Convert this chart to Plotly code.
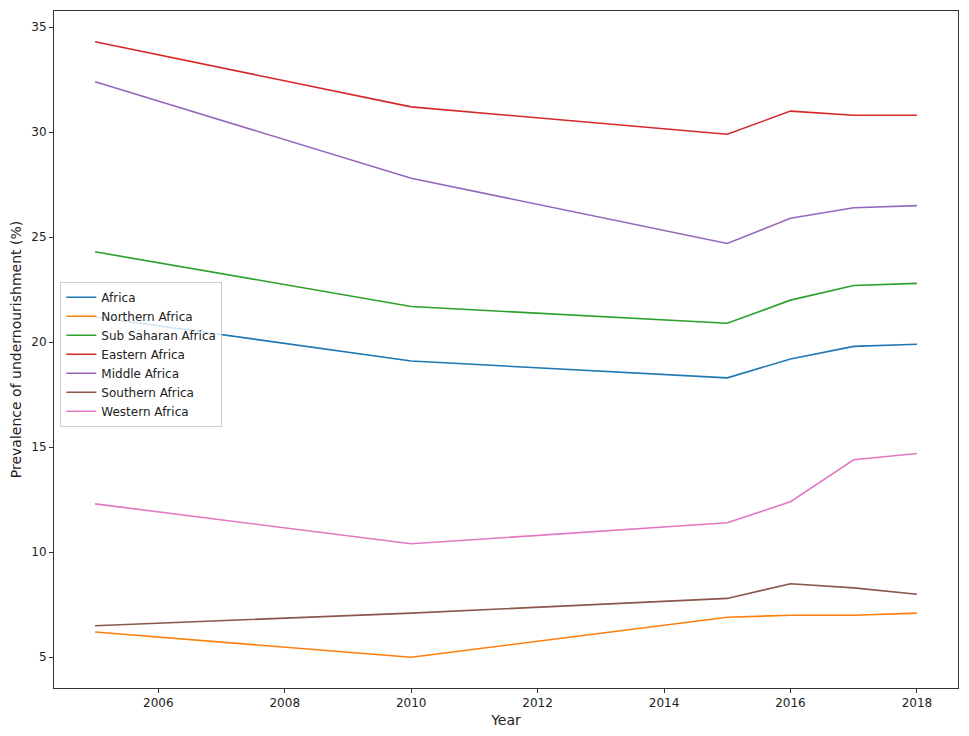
import plotly.graph_objects as go

years = [2005, 2010, 2015, 2016, 2017, 2018]

africa = [21.2, 19.1, 18.3, 19.2, 19.8, 19.9]
northern_africa = [6.2, 5.0, 6.9, 7.0, 7.0, 7.1]
sub_saharan_africa = [24.3, 21.7, 20.9, 22.0, 22.7, 22.8]
eastern_africa = [34.3, 31.2, 29.9, 31.0, 30.8, 30.8]
middle_africa = [32.4, 27.8, 24.7, 25.9, 26.4, 26.5]
southern_africa = [6.5, 7.1, 7.8, 8.5, 8.3, 8.0]
western_africa = [12.3, 10.4, 11.4, 12.4, 14.4, 14.7]

series = [
    ("Africa", africa, "#1f77b4"),
    ("Northern Africa", northern_africa, "#ff7f0e"),
    ("Sub Saharan Africa", sub_saharan_africa, "#2ca02c"),
    ("Eastern Africa", eastern_africa, "#d62728"),
    ("Middle Africa", middle_africa, "#9467bd"),
    ("Southern Africa", southern_africa, "#8c564b"),
    ("Western Africa", western_africa, "#e377c2"),
]

fig = go.Figure()
for name, vals, color in series:
    fig.add_trace(go.Scatter(x=years, y=vals, mode="lines", name=name,
                             line=dict(color=color, width=1.6)))

axis_style = dict(
    showgrid=False, zeroline=False, showline=True, linecolor="#333333",
    linewidth=1, mirror=True, ticks="outside", ticklen=4, tickcolor="#333333",
    tickfont=dict(size=12, color="#222222"),
)

# page body has an 8px margin, so the figure is a bit smaller than the window
fig.update_layout(
    width=953, height=720,
    margin=dict(l=46, r=2, t=2, b=38),
    plot_bgcolor="white", paper_bgcolor="white",
    font=dict(family="DejaVu Sans", size=12, color="#222222"),
    showlegend=True,
    legend=dict(x=0.007, y=0.6, xanchor="left", yanchor="top",
                bgcolor="rgba(255,255,255,0.8)", bordercolor="#cccccc",
                borderwidth=1, font=dict(size=12), tracegroupgap=0),
)
fig.update_xaxes(range=[2004.35, 2018.65], tickvals=[2006, 2008, 2010, 2012, 2014, 2016, 2018],
                 title=dict(text="Year", standoff=6), **axis_style)
fig.update_yaxes(range=[3.535, 35.765], tickvals=[5, 10, 15, 20, 25, 30, 35],
                 title=dict(text="Prevalence of undernourishment (%)", standoff=8), **axis_style)

fig.write_html("out.html")
